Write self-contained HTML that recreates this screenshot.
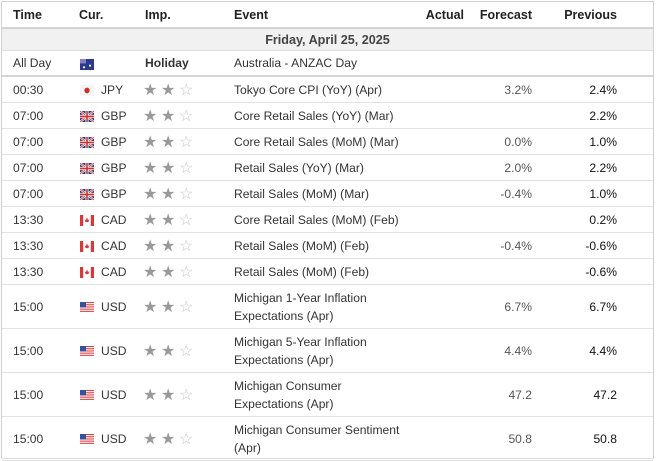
<!DOCTYPE html>
<html><head><meta charset="utf-8"><style>
body{margin:0;width:658px;height:461px;overflow:hidden;background:#fff;font-family:"Liberation Sans",Arial,sans-serif;font-size:12.1px;color:#333}
#tbl{position:absolute;left:1px;top:1px;width:653px;height:458px;border:1px solid #d0d0d0;border-bottom:1px solid #ddd;box-sizing:border-box}
.row{position:absolute;left:0;width:100%;border-bottom:1px solid #e2e2e2;box-sizing:border-box}
.c{position:absolute;line-height:17px}
.r{text-align:right}
.flag{position:absolute;width:14px;height:11px}
.star{position:absolute;font-size:16px;line-height:16px}
</style></head><body>
<div id="tbl">
 <div class="row" style="top:0;height:27px;border-bottom:2px solid #d4d4d4;font-weight:bold;color:#222;font-size:12.5px">
  <span class="c" style="left:11px;top:5px">Time</span>
  <span class="c" style="left:77px;top:5px">Cur.</span>
  <span class="c" style="left:143px;top:5px">Imp.</span>
  <span class="c" style="left:232px;top:5px">Event</span>
  <span class="c r" style="right:189px;top:5px">Actual</span>
  <span class="c r" style="right:121px;top:5px">Forecast</span>
  <span class="c r" style="right:36px;top:5px">Previous</span>
 </div>
 <div class="row" style="top:27px;height:22px;background:#f1f1f1;border-bottom:1px solid #ddd">
  <span class="c" style="left:0;width:100%;text-align:center;top:3px;font-weight:bold;color:#444;font-size:12.6px">Friday, April 25, 2025</span>
 </div>
 <div class="row" style="top:49px;height:26px;border-bottom:2px solid #d4d4d4">
  <span class="c" style="left:11px;top:4px">All Day</span>
  <svg class="flag" style="left:78px;top:8px" viewBox="0 0 14 10" preserveAspectRatio="none"><rect width="14" height="10" fill="#2b3a8c"/><rect width="6" height="4" fill="#8a7fc0"/><circle cx="10" cy="6" r="1" fill="#fff"/><circle cx="4" cy="7.5" r="1" fill="#fff"/></svg>
  <span class="c" style="left:143px;top:4px;font-weight:bold">Holiday</span>
  <span class="c" style="left:232px;top:4px">Australia - ANZAC Day</span>
 </div>
</div>
<script>
const times=["00:30","07:00","07:00","07:00","07:00","13:30","13:30","13:30","15:00","15:00","15:00","15:00"];
const currencies=["JPY","GBP","GBP","GBP","GBP","CAD","CAD","CAD","USD","USD","USD","USD"];
const events=[["Tokyo Core CPI (YoY) (Apr)"],["Core Retail Sales (YoY) (Mar)"],["Core Retail Sales (MoM) (Mar)"],["Retail Sales (YoY) (Mar)"],["Retail Sales (MoM) (Mar)"],["Core Retail Sales (MoM) (Feb)"],["Retail Sales (MoM) (Feb)"],["Retail Sales (MoM) (Feb)"],["Michigan 1-Year Inflation","Expectations (Apr)"],["Michigan 5-Year Inflation","Expectations (Apr)"],["Michigan Consumer","Expectations (Apr)"],["Michigan Consumer Sentiment","(Apr)"]];
const forecasts=["3.2%","","0.0%","2.0%","-0.4%","","-0.4%","","6.7%","4.4%","47.2","50.8"];
const previous=["2.4%","2.2%","1.0%","2.2%","1.0%","0.2%","-0.6%","-0.6%","6.7%","4.4%","47.2","50.8"];
const importance=[2,2,2,2,2,2,2,2,2,2,2,2];
const tbl=document.getElementById('tbl');
function flagSvg(cur){
 if(cur==="JPY")return '<rect width="14" height="10" fill="#f4f4f4"/><circle cx="7" cy="5" r="2.6" fill="#d42a2a"/>';
 if(cur==="GBP")return '<rect width="14" height="10" fill="#2d3d7a"/><path d="M0 0L14 10M14 0L0 10" stroke="#fff" stroke-width="2"/><path d="M0 0L14 10M14 0L0 10" stroke="#c33" stroke-width="0.8"/><path d="M7 0V10M0 5H14" stroke="#fff" stroke-width="3"/><path d="M7 0V10M0 5H14" stroke="#c33" stroke-width="1.6"/>';
 if(cur==="CAD")return '<rect width="14" height="10" fill="#fff"/><rect width="3.2" height="10" fill="#d43a3a"/><rect x="10.8" width="3.2" height="10" fill="#d43a3a"/><path d="M7 2L8 4.5L9.3 4L8.4 6.5H5.6L4.7 4L6 4.5Z" fill="#d43a3a"/>';
 let s='<rect width="14" height="10" fill="#fff"/>';
 for(let i=0;i<5;i++)s+='<rect y="'+(i*2)+'" width="14" height="1" fill="#d44"/>';
 return s+'<rect width="6" height="5" fill="#3b4f9a"/>';
}
let y=75;
for(let i=0;i<times.length;i++){
 const two=events[i].length>1;
 const h=two?44:26;
 const row=document.createElement('div');
 row.className='row';
 
 
 row.style.top=y+'px';row.style.height=h+'px';
 const ty=(h-1)/2-8;
 let html='<span class="c" style="left:11px;top:'+ty+'px">'+times[i]+'</span>';
 html+='<svg class="flag" style="left:78px;top:'+(ty+3)+'px" viewBox="0 0 14 10" preserveAspectRatio="none">'+flagSvg(currencies[i])+'</svg>';
 html+='<span class="c" style="left:99px;top:'+ty+'px">'+currencies[i]+'</span>';
 for(let s=0;s<3;s++){
  html+='<span class="star" style="left:'+(141+s*18)+'px;top:'+(ty+1)+'px;color:'+(s<importance[i]?'#999':'#c8c8c8')+'">'+(s<importance[i]?'★':'☆')+'</span>';
 }
 const ev=events[i].join('<br>');
 html+='<span class="c" style="left:232px;top:'+(two?4:ty)+'px;line-height:'+(two?'18px':'17px')+'">'+ev+'</span>';
 html+='<span class="c r" style="right:121px;top:'+ty+'px;color:#555">'+forecasts[i]+'</span>';
 html+='<span class="c r" style="right:36px;top:'+ty+'px;color:#111">'+previous[i]+'</span>';
 row.innerHTML=html;
 tbl.appendChild(row);
 y+=h;
}
</script>
</body></html>
